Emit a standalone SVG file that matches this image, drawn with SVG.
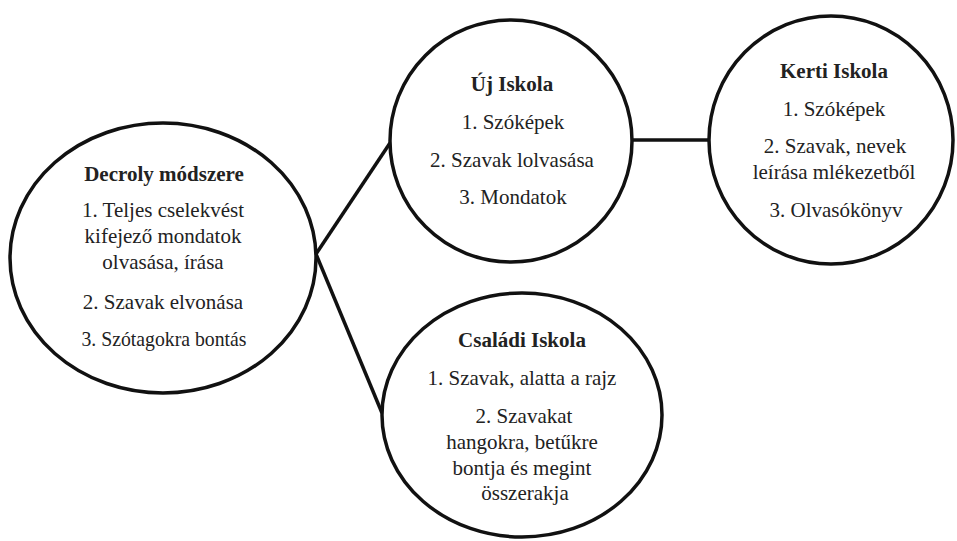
<svg xmlns="http://www.w3.org/2000/svg" width="957" height="541" viewBox="0 0 957 541">
<style>
.node{fill:#fff;stroke:#111;stroke-width:3.5}
.edge{stroke:#111;stroke-width:3.5;fill:none}
.lbl{font-family:'Liberation Serif','DejaVu Serif',serif;font-size:21px;fill:#222;text-anchor:middle}
.t{font-weight:bold}
</style>
<rect width="957" height="541" fill="#fff"/>
<g id="connectors">
<line class="edge" x1="316" y1="254" x2="390" y2="143"/>
<line class="edge" x1="316" y1="254" x2="382" y2="413"/>
<line class="edge" x1="632" y1="140" x2="708" y2="140"/>
</g>
<g id="decroly" class="lbl">
<ellipse class="node" cx="163" cy="258" rx="153" ry="135"/>
<text class="t" x="164" y="181">Decroly módszere</text>
<text x="163" y="217">1. Teljes cselekvést</text>
<text x="163" y="243">kifejező mondatok</text>
<text x="163" y="269">olvasása, írása</text>
<text x="163" y="309">2. Szavak elvonása</text>
<text x="164" y="346" textLength="165" lengthAdjust="spacingAndGlyphs">3. Szótagokra bontás</text>
</g>
<g id="uj-iskola" class="lbl">
<circle class="node" cx="511" cy="141" r="121"/>
<text class="t" x="512" y="91">Új Iskola</text>
<text x="513" y="129">1. Szóképek</text>
<text x="512" y="167">2. Szavak lolvasása</text>
<text x="513" y="204">3. Mondatok</text>
</g>
<g id="kerti-iskola" class="lbl">
<ellipse class="node" cx="831" cy="140" rx="122" ry="124"/>
<text class="t" x="834" y="78">Kerti Iskola</text>
<text x="834" y="116">1. Szóképek</text>
<text x="835" y="153">2. Szavak, nevek</text>
<text x="834" y="179">leírása mlékezetből</text>
<text x="836" y="217">3. Olvasókönyv</text>
</g>
<g id="csaladi-iskola" class="lbl">
<ellipse class="node" cx="522" cy="415" rx="140" ry="122"/>
<text class="t" x="522" y="347">Családi Iskola</text>
<text x="522" y="385">1. Szavak, alatta a rajz</text>
<text x="524" y="423">2. Szavakat</text>
<text x="522" y="449">hangokra, betűkre</text>
<text x="522" y="475">bontja és megint</text>
<text x="525" y="500">összerakja</text>
</g>
</svg>
